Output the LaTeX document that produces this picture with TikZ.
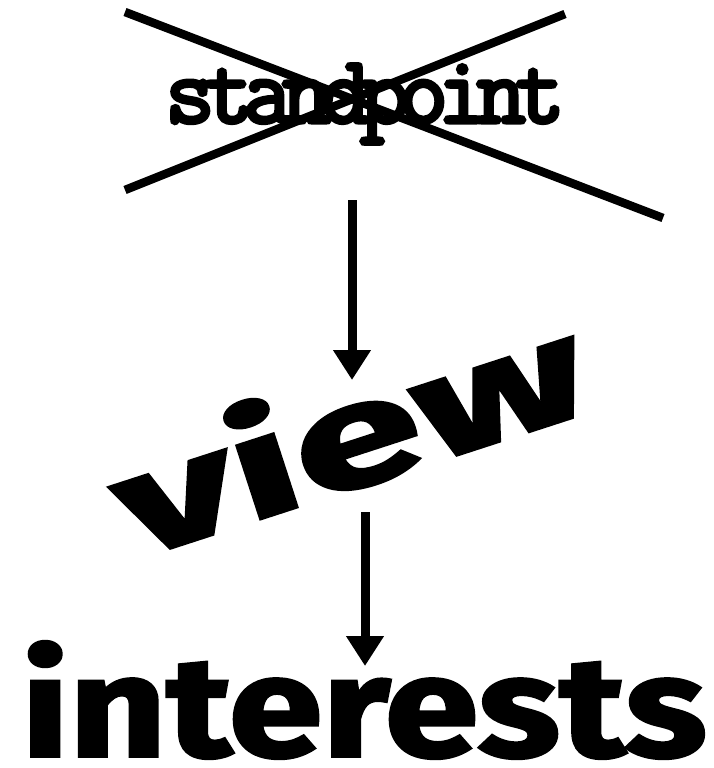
\documentclass[tikz,border=0pt]{standalone}
\usepackage{fontspec}
\usetikzlibrary{arrows.meta,positioning}
\newfontfamily\monofont{Latin Modern Mono}[LetterSpace=-11, FakeBold=4]
\newfontfamily\heavyfont{Fira Sans}[BoldFeatures={FakeBold=2}]

\begin{document}
\begin{tikzpicture}[
    x=1pt, y=-1pt,
    cross/.style={line width=8.5pt},
    arrow/.style={line width=9pt, -{Triangle[width=36pt,length=30pt]}},
    word/.style={inner sep=0pt, text=black}
]
    \useasboundingbox (0,0) rectangle (713,768);
    % crossed-out word
    \node[word, font={\monofont\fontsize{96}{96}\selectfont}] (standpoint) at (365,104) {standpoint};
    \draw[cross] (125,12) -- (663,218);
    \draw[cross] (565,14) -- (125,190);

    \node[word, font={\heavyfont\bfseries\fontsize{145}{145}\selectfont}, rotate=18, xscale=1.6] (view) at (348,430) {view};
    \node[word, font={\heavyfont\bfseries\fontsize{142}{142}\selectfont}, xscale=1.19] (interests) at (364,700) {interests};

    \coordinate (a1s) at (352,200);
    \coordinate (a1e) at (352,380);
    \coordinate (a2s) at (365,512);
    \coordinate (a2e) at (365,666);
    \draw[arrow] (a1s) -- (a1e);
    \draw[arrow] (a2s) -- (a2e);
\end{tikzpicture}
\end{document}
